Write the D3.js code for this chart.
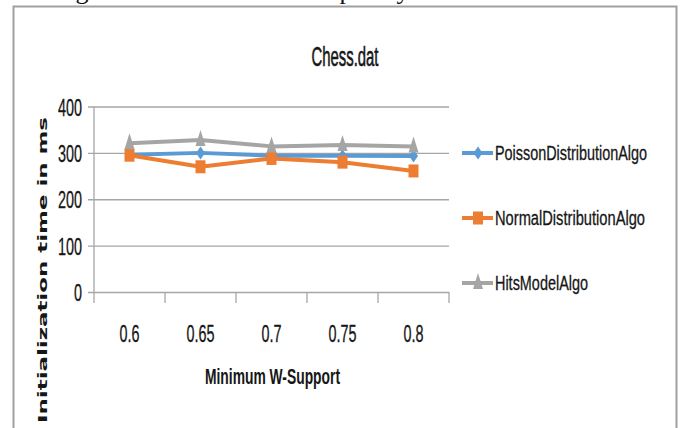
<!DOCTYPE html>
<html>
<head>
<meta charset="utf-8">
<script src="https://cdn.jsdelivr.net/npm/d3@7"></script>
<style>
  html, body { margin: 0; padding: 0; background: #fff; }
  svg { display: block; }
</style>
</head>
<body>
<svg id="chart" width="682" height="428"></svg>
<script>
// ---- data -------------------------------------------------------------
const categories   = ["0.6", "0.65", "0.7", "0.75", "0.8"];
const seriesNames  = ["PoissonDistributionAlgo", "NormalDistributionAlgo", "HitsModelAlgo"];
const poissonValues = [296, 300, 294, 294, 293];
const normalValues  = [295, 270, 288, 280, 261];
const hitsValues    = [321, 328, 314, 317, 314];
const yTickValues   = [0, 100, 200, 300, 400];

const chartTitle = "Chess.dat";
const xTitle = "Minimum W-Support";
const yTitle = "Initialization  time in ms";

// ---- styling ----------------------------------------------------------
const seriesColors  = ["#5b9bd5", "#ed7d31", "#a5a5a5"];
const seriesMarkers = ["diamond", "square", "triangle"];
const series = seriesNames.map((name, i) => ({
  name,
  values: [poissonValues, normalValues, hitsValues][i],
  color: seriesColors[i],
  marker: seriesMarkers[i]
}));

const sansFont = "'Liberation Sans', Arial, sans-serif";
const boldFont = "'DejaVu Sans', 'Liberation Sans', sans-serif";
const gridColor = "#a6a6a6";
const inkColor = "#161616";

const svg = d3.select("#chart");

// plot box
const plot = { left: 94, right: 449, top: 106.5, bottom: 292 };

const x = d3.scaleBand().domain(categories).range([plot.left, plot.right]);
const y = d3.scaleLinear().domain([0, 400]).range([plot.bottom, plot.top]);

// width of a narrow numeric label (the fonts are drawn condensed)
const numWidth = s => s.split("").reduce((w, c) => w + (c === "." ? 4 : 8), 0);

function addText(parent, str, o) {
  const t = parent.append("text")
    .attr("x", o.x).attr("y", o.y)
    .attr("font-family", o.family || sansFont)
    .attr("font-size", o.size)
    .attr("font-weight", o.weight || "normal")
    .attr("fill", o.fill || inkColor)
    .attr("text-anchor", o.anchor || "start")
    .text(str);
  if (o.stroke) t.attr("stroke", o.fill || inkColor).attr("stroke-width", o.stroke);
  if (o.len) t.attr("textLength", o.len).attr("lengthAdjust", "spacingAndGlyphs");
  if (o.transform) t.attr("transform", o.transform);
  return t;
}

// ---- page fragment above the chart frame ------------------------------
const above = svg.append("g");
[["g", 82], ["p", 346], ["y", 403]].forEach(([ch, px]) =>
  addText(above, ch, { x: px, y: -1, size: 26, family: "'Liberation Serif', 'Times New Roman', serif", fill: "#111", anchor: "middle" }));

// ---- chart frame ------------------------------------------------------
svg.append("path")
  .attr("d", "M13.5,430 V6.5 H676.5 V430")
  .attr("fill", "none")
  .attr("stroke", "#a0a0a0")
  .attr("stroke-width", 2);

// ---- title ------------------------------------------------------------
addText(svg, chartTitle, { x: 345, y: 66, size: 27, anchor: "middle", len: 67, stroke: 0.6 });

// ---- gridlines + y axis -----------------------------------------------
const yAxis = d3.axisLeft(y)
  .tickValues(yTickValues)
  .tickSizeInner(-(plot.right - (plot.left - 6)))
  .tickSizeOuter(0)
  .tickPadding(6)
  .tickFormat(d3.format("d"));

const gy = svg.append("g")
  .attr("transform", `translate(${plot.left - 6},0)`)
  .call(yAxis);
gy.select(".domain").remove();
gy.selectAll(".tick line").attr("stroke", gridColor).attr("stroke-width", 1.3);
gy.selectAll(".tick text")
  .attr("font-family", sansFont)
  .attr("font-size", 24)
  .attr("fill", inkColor)
  .attr("stroke", inkColor)
  .attr("stroke-width", 0.3)
  .attr("dy", null)
  .attr("y", 8.5)
  .each(function (d) {
    d3.select(this).attr("textLength", numWidth(String(d))).attr("lengthAdjust", "spacingAndGlyphs");
  });

// vertical axis line
svg.append("line")
  .attr("x1", plot.left).attr("x2", plot.left)
  .attr("y1", y(400)).attr("y2", y(0) + 11)
  .attr("stroke", gridColor).attr("stroke-width", 1.3);

// ---- x axis: boundary ticks and centred labels ------------------------
const boundaries = categories.map(c => x(c)).concat([x.range()[1]]);
svg.append("g").selectAll("line")
  .data(boundaries.slice(1))
  .join("line")
  .attr("x1", d => d).attr("x2", d => d)
  .attr("y1", y(0)).attr("y2", y(0) + 11)
  .attr("stroke", gridColor).attr("stroke-width", 1.3);

const xAxis = d3.axisBottom(x).tickSize(0).tickPadding(0);
const gx = svg.append("g").attr("transform", `translate(0,${y(0)})`).call(xAxis);
gx.select(".domain").remove();
gx.selectAll(".tick text")
  .attr("font-family", sansFont)
  .attr("font-size", 24)
  .attr("fill", inkColor)
  .attr("stroke", inkColor)
  .attr("stroke-width", 0.3)
  .attr("dy", null)
  .attr("y", 50)
  .each(function (d) {
    d3.select(this).attr("textLength", numWidth(d)).attr("lengthAdjust", "spacingAndGlyphs");
  });

// ---- axis titles ------------------------------------------------------
addText(svg, xTitle, { x: 272.5, y: 383.5, size: 22, weight: "bold", family: sansFont, anchor: "middle", len: 135 });

addText(svg, yTitle, {
  x: 0, y: 0, size: 21, weight: "bold", family: boldFont, anchor: "middle", len: 306,
  transform: "translate(47,270) rotate(-90) scale(1,0.6)"
});

// ---- markers ----------------------------------------------------------
function markerPath(kind, w, h) {
  if (kind === "diamond")  return `M0,${-h / 2}L${w / 2},0L0,${h / 2}L${-w / 2},0Z`;
  if (kind === "square")   return `M${-w / 2},${-h / 2}H${w / 2}V${h / 2}H${-w / 2}Z`;
  return `M0,${-h * 0.62}L${w / 2},${h * 0.38}L${-w / 2},${h * 0.38}Z`;
}
const markerSize = { diamond: [9, 13], square: [10, 13], triangle: [10, 16] };

// ---- series lines -----------------------------------------------------
const line = d3.line()
  .x((d, i) => x(categories[i]) + x.bandwidth() / 2)
  .y(d => y(d));

const gs = svg.append("g").selectAll("g")
  .data(series)
  .join("g");

gs.append("path")
  .attr("d", d => line(d.values))
  .attr("fill", "none")
  .attr("stroke", d => d.color)
  .attr("stroke-width", 4)
  .attr("stroke-linejoin", "round");

gs.each(function (s) {
  d3.select(this).selectAll("path.mk")
    .data(s.values)
    .join("path")
    .attr("class", "mk")
    .attr("d", markerPath(s.marker, ...markerSize[s.marker]))
    .attr("transform", (d, i) => `translate(${x(categories[i]) + x.bandwidth() / 2},${y(d)})`)
    .attr("fill", s.color);
});

// ---- legend -----------------------------------------------------------
const legend = svg.append("g").attr("transform", "translate(462,153)");
const items = legend.selectAll("g")
  .data(series)
  .join("g")
  .attr("transform", (d, i) => `translate(0,${i * 65})`);

items.append("line")
  .attr("x1", 0).attr("x2", 31)
  .attr("stroke", d => d.color)
  .attr("stroke-width", 4);
items.append("path")
  .attr("d", d => markerPath(d.marker, ...markerSize[d.marker]))
  .attr("transform", "translate(16,0)")
  .attr("fill", d => d.color);

const legendLens = [152, 150, 93];
items.each(function (d, i) {
  addText(d3.select(this), d.name, { x: 33, y: 7, size: 20, len: legendLens[i], stroke: 0.3 });
});
</script>
</body>
</html>
